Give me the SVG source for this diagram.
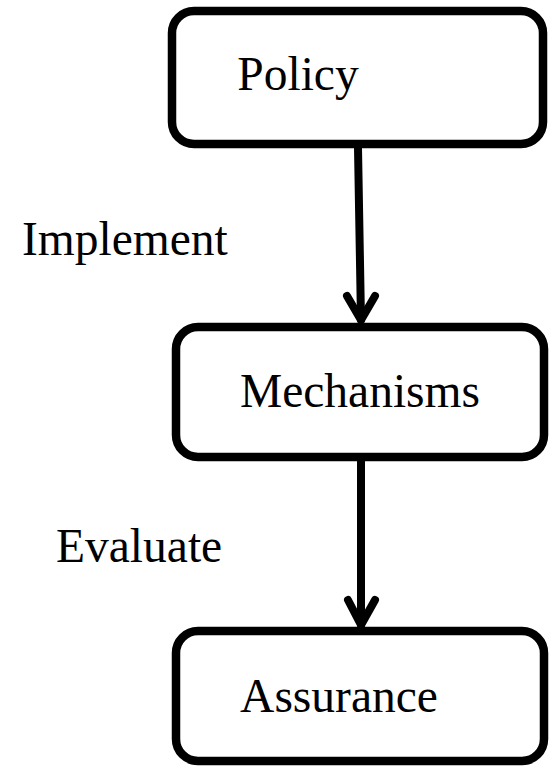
<svg xmlns="http://www.w3.org/2000/svg" width="555" height="766" viewBox="0 0 555 766">
  <style>
    .box { fill: #ffffff; stroke: #000000; stroke-width: 8.5; }
    .label { font-family: "Liberation Serif", "Times New Roman", serif; font-size: 47.5px; fill: #000000; }
    .edge { fill: none; stroke: #000000; stroke-width: 8; stroke-linecap: round; stroke-linejoin: round; }
  </style>
  <rect width="555" height="766" fill="#ffffff"/>

  <g id="connectors">
    <g id="implement">
      <path class="edge" d="M358 148 L361 320"/>
      <path class="edge" d="M347 296 L361 320 L375 296"/>
      <text class="label" x="22" y="255">Implement</text>
    </g>
    <g id="evaluate">
      <path class="edge" d="M361 460 L361 625"/>
      <path class="edge" d="M348 600 L361 625 L375 600"/>
      <text class="label" x="56" y="562">Evaluate</text>
    </g>
  </g>

  <g id="policy">
    <rect class="box" x="172" y="11" width="371" height="133" rx="22"/>
    <text class="label" x="298" y="90" text-anchor="middle">Policy</text>
  </g>

  <g id="mechanisms">
    <rect class="box" x="176" y="327" width="368" height="130" rx="22"/>
    <text class="label" x="360" y="407" text-anchor="middle">Mechanisms</text>
  </g>

  <g id="assurance">
    <rect class="box" x="176" y="631" width="368" height="130" rx="22"/>
    <text class="label" x="339" y="712" text-anchor="middle">Assurance</text>
  </g>
</svg>
